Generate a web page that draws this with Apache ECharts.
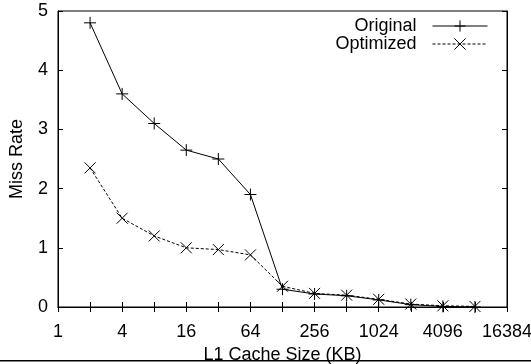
<!DOCTYPE html>
<html>
<head>
<meta charset="utf-8">
<script src="https://cdn.jsdelivr.net/npm/echarts@6/dist/echarts.min.js"></script>
<style>
  html, body { margin: 0; padding: 0; background: #fff; }
  #main { width: 531px; height: 364px; }
</style>
</head>
<body>
<div id="main"></div>
<script>
// 数据
var cacheSizes = [2, 4, 8, 16, 32, 64, 128, 256, 512, 1024, 2048, 4096, 8192];
var originalRate = [4.8, 3.6, 3.1, 2.65, 2.5, 1.9, 0.3, 0.22, 0.19, 0.12, 0.04, 0.01, 0.0];
var optimizedRate = [2.35, 1.5, 1.2, 1.0, 0.97, 0.88, 0.35, 0.23, 0.2, 0.13, 0.05, 0.02, 0.01];
var yTicks = [0, 1, 2, 3, 4, 5];

var FONT = 'Liberation Sans';
var plusPath = 'path://M0,5 L10,5 M5,0 L5,10';
var crossPath = 'path://M0,0 L10,10 M10,0 L0,10';

function pairs(xs, ys) {
  return xs.map(function (x, i) { return [x, ys[i]]; });
}

var myChart = echarts.init(document.getElementById('main'));

var legendBase = {
  right: 43,
  padding: 0,
  align: 'right',
  itemWidth: 55, itemHeight: 14,
  lineStyle: { width: 1 },
  itemStyle: { borderWidth: 1 },
  textStyle: { fontFamily: FONT, fontSize: 18, color: '#000', padding: [0, 11, 0, 0] }
};

var option = {
  backgroundColor: '#fff',
  animation: false,
  grid: {
    left: 58, right: 24, top: 11, bottom: 57,
    outerBoundsMode: 'none',
    containLabel: false,
    show: true, borderColor: '#000', borderWidth: 1
  },
  legend: [
    Object.assign({}, legendBase, { data: ['Original'], top: 17 }),
    Object.assign({}, legendBase, { data: ['Optimized'], top: 35 })
  ],
  xAxis: [
    {
      type: 'log',
      logBase: 2,
      min: 1,
      max: 16384,
      interval: 1,
      name: 'L1 Cache Size (KB)',
      nameLocation: 'middle',
      nameGap: 35,
      nameTextStyle: { fontFamily: FONT, fontSize: 18, color: '#000' },
      axisLine: { lineStyle: { color: '#000', width: 1 } },
      axisTick: { inside: true, length: 5, lineStyle: { color: '#000' } },
      axisLabel: {
        margin: 16,
        showMaxLabel: true,
        alignMaxLabel: 'center',
        hideOverlap: false,
        fontFamily: FONT, fontSize: 18, color: '#000',
        formatter: function (v) {
          var e = Math.round(Math.log2(v));
          return e % 2 === 0 ? String(Math.pow(2, e)) : '';
        }
      },
      splitLine: { show: false }
    },
    {
      type: 'log',
      logBase: 2,
      min: 1,
      max: 16384,
      interval: 1,
      position: 'top',
      axisLine: { lineStyle: { color: '#000' } },
      axisTick: { inside: true, length: 5, lineStyle: { color: '#000' } },
      axisLabel: { show: false },
      splitLine: { show: false }
    }
  ],
  yAxis: [
    {
      type: 'value',
      min: yTicks[0],
      max: yTicks[yTicks.length - 1],
      interval: 1,
      name: 'Miss Rate',
      nameLocation: 'middle',
      nameGap: 32,
      nameTextStyle: { fontFamily: FONT, fontSize: 18, color: '#000' },
      axisLine: { show: true, lineStyle: { color: '#000' } },
      axisTick: { show: true, inside: true, length: 5, lineStyle: { color: '#000' } },
      axisLabel: { margin: 10, fontFamily: FONT, fontSize: 18, color: '#000' },
      splitLine: { show: false }
    },
    {
      type: 'value',
      min: yTicks[0],
      max: yTicks[yTicks.length - 1],
      interval: 1,
      position: 'right',
      axisLine: { show: true, lineStyle: { color: '#000' } },
      axisTick: { show: true, inside: true, length: 5, lineStyle: { color: '#000' } },
      axisLabel: { show: false },
      splitLine: { show: false }
    }
  ],
  series: [
    {
      name: 'Original',
      type: 'line',
      data: pairs(cacheSizes, originalRate),
      symbol: plusPath,
      symbolSize: 12,
      showAllSymbol: true,
      lineStyle: { color: '#000', width: 1 },
      itemStyle: { color: '#000', borderColor: '#000', borderWidth: 1 },
      z: 3
    },
    {
      name: 'Optimized',
      type: 'line',
      data: pairs(cacheSizes, optimizedRate),
      symbol: crossPath,
      symbolSize: 11,
      showAllSymbol: true,
      lineStyle: { color: '#000', width: 1, type: [3, 2] },
      itemStyle: { color: '#000', borderColor: '#000', borderWidth: 1 },
      z: 2
    }
  ],
  graphic: [
    {
      type: 'rect',
      left: 0, top: 360,
      shape: { width: 531, height: 1.5 },
      style: { fill: '#000' }
    }
  ]
};

myChart.setOption(option);
window.addEventListener('resize', function () {
  myChart.resize();
});
</script>
</body>
</html>
